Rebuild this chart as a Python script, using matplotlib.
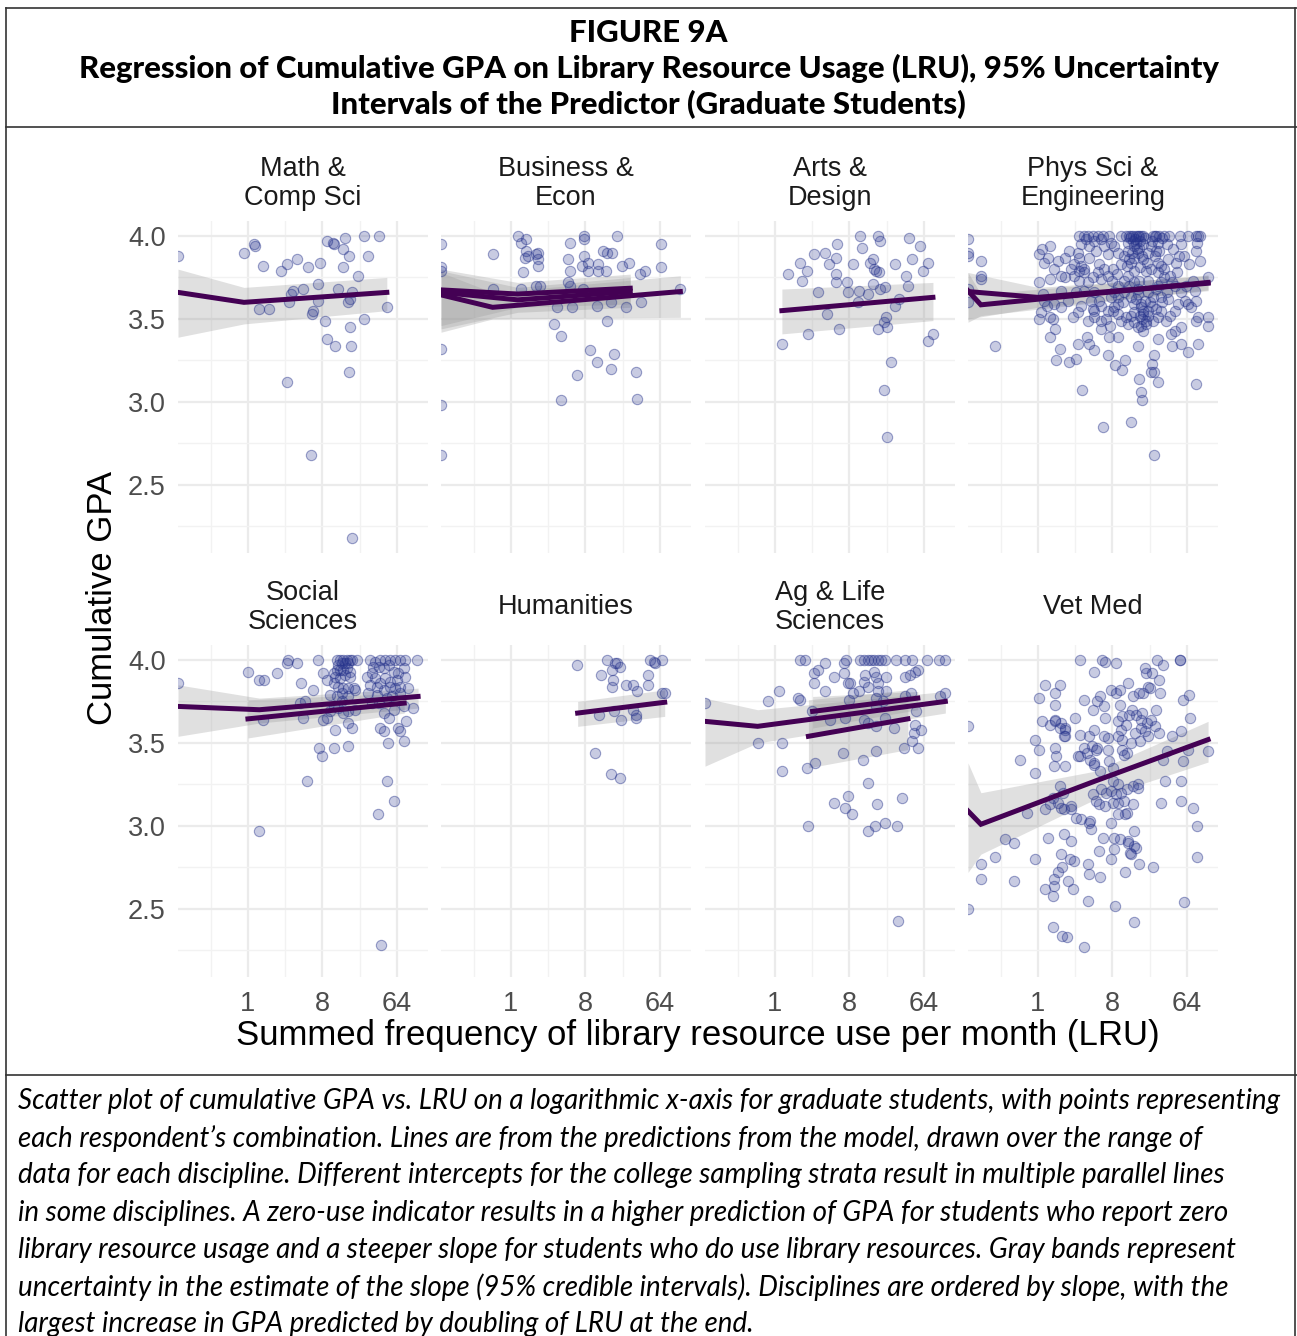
import numpy as np
import matplotlib.pyplot as plt
from matplotlib.lines import Line2D

# ---- data (x = log2 of LRU per month, y = cumulative GPA) ----
disciplines = ["Math &\nComp Sci", "Business &\nEcon", "Arts &\nDesign", "Phys Sci &\nEngineering",
               "Social\nSciences", "Humanities", "Ag & Life\nSciences", "Vet Med"]

math_pts = [(-0.16,3.90),(0.26,3.95),(0.28,3.94),(0.59,3.82),(0.46,3.56),(0.85,3.56),(1.33,3.79),(1.59,3.83),
            (1.99,3.86),(2.44,3.81),(2.91,3.84),(1.72,3.65),(1.83,3.67),(2.21,3.68),(1.67,3.60),(2.81,3.71),
            (2.81,3.61),(2.64,3.55),(2.60,3.53),(3.18,3.97),(3.42,3.96),(3.49,3.95),(3.92,3.99),(3.85,3.92),
            (4.09,3.88),(3.85,3.81),(4.43,3.76),(3.65,3.68),(4.19,3.66),(4.12,3.62),(4.03,3.60),(3.10,3.49),
            (4.12,3.45),(3.18,3.38),(3.52,3.34),(4.15,3.34),(4.66,4.0),(5.28,4.0),(4.84,3.88),(4.66,3.50),
            (5.60,3.57),(4.08,3.18),(1.59,3.12),(2.55,2.68),(4.20,2.18)]
math_zero = [3.88]

bus_pts = [(-0.74,3.89),(-0.74,3.68),(0.27,4.0),(0.40,3.96),(0.59,3.98),(0.59,3.91),(0.57,3.87),(0.67,3.88),
           (1.0,3.89),(1.08,3.90),(1.10,3.86),(1.08,3.82),(0.48,3.78),(0.40,3.68),(1.0,3.70),(1.19,3.70),
           (2.38,3.96),(2.32,3.86),(2.40,3.79),(2.32,3.72),(2.38,3.70),(2.95,4.0),(2.95,3.98),(2.94,3.88),
           (2.86,3.82),(3.12,3.84),(3.10,3.79),(3.53,3.83),(3.50,3.79),(3.82,3.79),(2.92,3.68),(3.73,3.91),
           (3.87,3.90),(4.07,3.90),(4.27,4.0),(4.47,3.82),(4.78,3.84),(5.21,3.77),(5.41,3.79),(6.06,3.95),
           (6.06,3.81),(6.83,3.68),(1.87,3.57),(2.48,3.57),(3.49,3.58),(4.04,3.60),(4.63,3.57),(5.24,3.60),
           (3.87,3.49),(1.72,3.47),(2.01,3.40),(3.19,3.31),(4.16,3.29),(3.46,3.24),(4.04,3.20),(5.04,3.18),
           (2.65,3.16),(2.01,3.01),(5.08,3.02)]
bus_zero = [3.95, 3.81, 3.79, 3.32, 2.98, 2.68]

arts_pts = [(0.28,3.35),(0.51,3.77),(1.01,3.84),(1.09,3.73),(1.29,3.79),(1.56,3.89),(2.02,3.90),(2.51,3.95),
            (2.46,3.87),(2.17,3.83),(2.48,3.77),(2.48,3.72),(1.75,3.66),(2.10,3.53),(1.35,3.41),(2.57,3.44),
            (2.90,3.72),(2.96,3.66),(3.14,3.83),(3.37,3.67),(3.34,3.60),(3.43,4.0),(3.52,3.93),(3.74,3.65),
            (3.85,3.84),(3.95,3.86),(3.99,3.80),(4.08,3.79),(4.19,3.78),(3.95,3.71),(4.15,4.0),(4.24,3.97),
            (4.22,3.68),(4.42,3.69),(4.46,3.51),(4.39,3.48),(4.15,3.44),(4.51,3.45),(4.85,3.83),(4.85,3.58),
            (5.02,3.62),(5.28,3.76),(5.36,3.70),(5.41,3.99),(5.54,3.86),(5.86,3.94),(5.97,3.79),(6.17,3.84),
            (6.37,3.41),(6.17,3.37),(4.67,3.24),(4.38,3.07),(4.50,2.79)]
arts_zero = []

phys_pts = [(-2.30,3.85),(-2.30,3.76),(-2.30,3.74),(-1.72,3.34),
            (0.03,3.89),(0.16,3.92),(0.50,3.94),(0.42,3.87),(0.79,3.85),(0.03,3.72),(0.50,3.74),(0.03,3.50),
            (0.50,3.51),(0.59,3.50),(0.70,3.44),(0.50,3.39),(0.89,3.32),(0.73,3.25),(1.27,3.24),(1.54,3.26),
            (1.76,3.07),(2.61,2.85),(3.76,2.88),(4.67,2.68),(4.20,3.01),(4.16,3.06),(4.09,3.14),(4.86,3.12),
            (6.38,3.11),(4.57,3.18),(4.67,3.18),(4.67,3.28),(4.59,3.23),(3.11,3.22),(3.38,3.19),(3.52,3.25),
            (2.81,3.28),(2.25,3.31),(2.05,3.35),(1.60,3.35),(1.98,3.39),(2.88,3.39),(3.22,3.39),(4.05,3.34),
            (2.55,3.44),(2.92,3.46),(2.25,3.51),(2.25,3.55),(1.40,3.51),(1.09,3.75),(1.27,3.91),(1.10,3.87),
            (1.67,3.87),(1.87,3.80),(1.67,3.73),(2.07,3.87),(2.34,3.91),(2.48,3.83),(2.81,3.89),(2.99,3.73),
            (3.18,3.77),(3.35,3.83),(3.02,3.80),(3.62,3.91),(3.76,3.84),(3.89,3.79),(4.05,3.90),(4.23,3.86),
            (4.36,3.79),(4.70,3.88),(4.84,3.84),(4.90,3.91),(5.24,3.86),(5.44,3.92),(5.58,3.84),(5.78,3.95),
            (5.89,3.88),(6.11,3.83),(6.38,3.91),(6.52,3.85),(6.42,3.96),(6.86,3.75),(6.86,3.51),(6.86,3.46),
            (6.38,3.49),(6.45,3.51),(6.05,3.59),(6.18,3.57),(5.91,3.61),(5.78,3.45),(5.51,3.43),(5.35,3.41),
            (5.40,3.34),(5.75,3.35),(6.05,3.30),(6.45,3.35),(5.24,3.62),(4.97,3.63),(4.84,3.51),(4.63,3.49),
            (4.86,3.38),
            (1.67,4.0),(1.87,4.0),(2.01,4.0),(2.21,4.0),(2.41,4.0),(2.61,4.0),(2.88,4.0),(3.35,4.0),(3.56,4.0),
            (3.69,4.0),(3.83,4.0),(3.96,4.0),(4.09,4.0),(4.23,4.0),(4.63,4.0),(4.77,4.0),(4.90,4.0),(5.10,4.0),
            (5.30,4.0),(5.71,4.0),(6.05,4.0),(6.38,4.0),(6.52,4.0),(3.76,4.0),(4.16,4.0),(4.03,4.0),(4.70,4.0),
            (6.45,4.0),
            (3.22,3.70),(3.49,3.66),(3.76,3.63),(3.89,3.59),(4.16,3.57),(4.23,3.53),(4.36,3.49),(4.16,3.46),
            (4.03,3.45),(4.43,3.55),(4.30,3.61),(4.03,3.65),(3.69,3.70),(3.42,3.60),(3.56,3.51),(3.76,3.52),
            (3.89,3.54),(4.50,3.60),(4.63,3.63),(4.84,3.70),(4.97,3.72),(5.10,3.75),(4.84,3.78),(4.57,3.80),
            (4.43,3.73),(4.09,3.73),(3.89,3.72),(3.62,3.76),(3.49,3.73),(3.22,3.63),(3.08,3.57),(3.22,3.53),
            (3.02,3.55),(3.35,3.49),(3.62,3.47),(3.89,3.48),(4.23,3.43),(4.16,3.59),(4.43,3.66),(4.77,3.56),
            (4.97,3.55),(5.17,3.49),(5.31,3.52),(5.51,3.55),(5.64,3.59),(5.78,3.66),(5.98,3.70),(6.25,3.73),
            (6.32,3.67),(6.38,3.61),(5.51,3.70),(5.31,3.76),(5.10,3.80),(4.97,3.82),(4.77,3.91),(4.57,3.94),
            (4.43,3.90),(4.23,3.95),(3.96,3.96),(3.83,3.97),(3.62,3.96),(3.89,3.94),(4.09,3.93),(3.89,3.87),
            (3.69,3.86),(3.49,3.88),(3.22,3.90),(3.08,3.94),(2.95,3.96),(2.68,3.94),(2.55,3.98),(2.28,3.97),
            (2.07,3.94),(1.94,3.98),(1.74,3.95),(1.60,3.90),(1.47,3.83),(1.74,3.82),(1.87,3.78),(2.01,3.72),
            (2.21,3.75),(2.41,3.78),(2.55,3.74),(2.68,3.80),(2.81,3.76),(2.28,3.66),(2.14,3.61),(2.48,3.61),
            (2.55,3.58),(2.81,3.55),(2.75,3.50),(2.95,3.63),(3.08,3.66),(3.22,3.59),(2.21,3.56),(1.74,3.58),
            (1.60,3.54),(2.01,3.49),(2.55,3.49),(0.93,3.67),(1.20,3.61),(1.54,3.66),(1.87,3.67),(0.93,3.57),
            (0.66,3.59),(0.26,3.61),(0.19,3.65),(0.12,3.54),(0.36,3.58),(0.93,3.76),(1.47,3.76),(1.67,3.79),
            (0.66,3.80),(0.26,3.84),(1.33,3.80),
            (3.70,3.99),(3.90,3.98),(4.10,3.97),(4.30,3.99),(4.00,3.92),(3.80,3.90),(4.20,3.88),(4.40,3.84),
            (3.60,3.82),(4.10,3.81),(4.35,3.47),(4.20,3.50),(4.10,3.52),(4.25,3.55),(4.45,3.52),(4.60,3.58),
            (3.95,3.62),(4.05,3.68),(4.75,3.68),(5.00,3.60),(5.20,3.66),(5.40,3.72),(5.60,3.78),(5.70,3.88),
            (5.20,3.95),(5.00,3.99),(4.85,3.96),(4.60,3.97)]
phys_zero = [3.98, 3.90, 3.88, 3.68, 3.60]

soc_pts = [(0.0,3.93),(0.46,3.88),(0.66,3.88),(0.59,3.64),(0.46,2.97),(1.19,3.92),(1.63,4.0),(1.59,3.98),
           (1.99,3.98),(2.14,3.86),(2.10,3.74),(2.30,3.75),(2.24,3.65),(2.61,3.82),(2.37,3.27),(2.84,4.0),
           (3.04,3.92),(2.87,3.47),(2.98,3.42),(3.04,3.64),(3.18,3.65),(3.52,3.58),(3.49,3.47),(4.05,3.48),
           (4.19,3.59),(4.03,3.62),
           (3.58,4.0),(3.72,4.0),(3.85,4.0),(3.99,4.0),(4.12,4.0),(4.19,4.0),(4.39,4.0),(3.65,3.97),(3.78,3.98),
           (3.92,3.98),(4.05,3.98),(3.58,3.94),(3.72,3.94),(3.85,3.94),(3.99,3.95),(4.12,3.93),(3.52,3.90),
           (3.72,3.89),(3.92,3.91),(4.12,3.90),(3.45,3.86),(3.65,3.84),(3.85,3.83),(4.05,3.83),(4.26,3.83),
           (3.31,3.79),(3.58,3.78),(3.78,3.80),(4.05,3.78),(4.32,3.82),(3.45,3.72),(3.65,3.71),(3.85,3.68),
           (4.05,3.69),(4.32,3.70),(3.78,3.75),(3.31,3.69),(3.18,3.88),(3.45,3.92),
           (4.93,4.0),(5.13,3.99),(5.33,4.0),(5.54,4.0),(5.74,4.0),(5.94,4.0),(6.14,4.0),(6.34,4.0),(6.81,4.0),
           (5.06,3.96),(5.27,3.96),(5.47,3.95),(5.67,3.97),(5.87,3.93),(6.07,3.92),(6.28,3.95),(4.79,3.90),
           (5.00,3.92),(5.13,3.89),(5.33,3.86),(5.54,3.89),(5.74,3.87),(6.01,3.88),(6.34,3.90),(4.93,3.85),
           (5.20,3.84),(5.47,3.82),(5.74,3.84),(5.94,3.83),(6.14,3.84),(6.44,3.83),(4.86,3.80),(5.20,3.79),
           (5.60,3.77),(5.80,3.78),(6.14,3.80),(5.00,3.74),(5.27,3.74),(5.47,3.68),(5.67,3.65),(5.87,3.70),
           (6.28,3.72),(6.64,3.71),(5.33,3.59),(5.47,3.57),(5.63,3.50),(6.07,3.59),(6.14,3.57),(6.28,3.51),
           (6.37,3.63),(5.60,3.27),(5.87,3.15),(5.24,3.07),(5.36,2.28)]
soc_zero = [3.86]

hum_pts = [(2.68,3.97),(3.87,4.0),(4.20,3.98),(4.27,3.98),(4.38,3.96),(4.09,3.94),(3.64,3.91),(4.11,3.88),
           (4.07,3.84),(4.65,3.85),(4.94,3.85),(5.08,3.81),(5.52,3.91),(5.52,3.85),(5.62,4.0),(5.75,3.99),
           (5.82,3.98),(6.09,4.0),(6.09,3.80),(6.22,3.80),(3.56,3.67),(4.16,3.69),(4.44,3.64),(4.92,3.70),
           (5.05,3.67),(5.05,3.65),(3.39,3.44),(4.03,3.31),(4.38,3.29)]
hum_zero = []

ag_pts = [(-0.70,3.50),(-0.30,3.75),(0.15,3.81),(0.28,3.50),(0.28,3.33),(0.94,3.77),(1.01,3.76),(1.0,4.0),
          (1.23,4.0),(1.35,3.0),(1.29,3.35),(1.62,3.38),(1.56,3.86),(1.59,3.92),(1.72,3.94),(2.03,3.98),
          (2.03,3.81),(2.37,3.90),(2.40,3.14),(2.73,3.44),(2.77,3.98),(2.80,3.92),(2.85,4.0),(2.83,3.11),
          (2.94,3.86),(3.03,3.86),(2.94,3.18),(3.11,3.07),(3.14,3.80),(3.0,3.76),(3.38,3.81),(3.43,4.0),
          (3.61,4.0),(3.74,4.0),(3.88,4.0),(4.01,4.0),(4.15,4.0),(4.28,4.0),(4.44,4.0),(3.61,3.87),(3.65,3.91),
          (3.74,3.84),(4.01,3.93),(4.08,3.90),(4.15,3.86),(4.48,3.90),(4.15,3.81),(4.08,3.77),(3.74,3.26),
          (3.54,3.40),(4.08,3.45),(4.12,3.13),(3.77,2.97),(4.04,3.0),(4.44,3.02),(4.93,3.0),(5.13,3.17),
          (4.96,2.43),(4.82,3.59),(4.89,4.0),(5.23,4.0),(5.54,4.0),(6.13,4.0),(6.6,4.0),(6.84,4.0),(5.25,3.90),
          (5.43,3.91),(5.63,3.93),(5.76,3.94),(5.63,3.61),(5.9,3.58),(5.59,3.56),(5.54,3.51),(5.78,3.47),
          (5.2,3.47),(5.67,3.69),(5.23,3.78),(5.49,3.80),(6.64,3.78),(6.87,3.80),(4.48,3.81),(3.61,3.64),
          (3.74,3.62),(4.08,3.60),(4.42,3.65),(4.08,3.72),(4.35,3.75),(2.2,3.64),(2.83,3.65),(1.5,3.69)]
ag_zero = [3.74]

vet_pts = [(-2.30,2.77),(-2.30,2.68),(-1.72,2.81),(-1.32,2.92),(-0.98,2.90),(-0.98,2.67),(-0.71,3.40),
           (-0.46,3.08),(-0.12,2.80),(-0.12,3.32),(-0.12,3.52),(0.03,3.77),(0.03,3.46),(0.16,3.63),(0.30,3.85),
           (0.30,3.10),(0.30,2.62),(0.42,2.93),(0.50,3.61),(0.59,3.17),(0.62,2.58),(0.63,2.64),(0.63,2.68),
           (0.62,2.39),(0.70,3.80),(0.70,3.73),(0.70,3.47),(0.70,3.64),(0.63,3.36),(0.73,3.42),(0.89,3.85),
           (0.89,3.59),(0.93,3.11),(0.93,2.83),(0.96,2.75),(0.96,2.34),(0.90,3.24),(1.04,3.10),(1.10,3.36),
           (1.10,3.54),(1.10,3.59),(1.17,2.33),(1.20,2.67),(1.34,2.91),(1.34,3.10),(1.40,2.62),(1.47,2.79),
           (1.51,3.65),(1.60,3.42),(1.71,4.0),(1.71,3.55),(1.87,3.76),(1.87,3.47),(2.01,2.77),(2.07,2.71),
           (2.03,2.55),(1.85,2.27),(2.07,3.54),(2.10,3.03),(2.17,3.48),(2.21,3.70),(2.25,3.93),(2.28,3.58),
           (2.28,3.38),(2.38,3.75),(2.38,3.47),(2.52,2.69),(2.45,2.85),(2.52,3.33),(2.61,2.93),(2.57,4.0),
           (2.68,3.54),(2.72,3.65),(2.81,3.46),(2.81,3.53),(2.72,3.99),(2.88,3.39),(2.95,2.80),(3.02,3.35),
           (3.08,2.93),(3.08,2.86),(3.12,2.52),(3.15,3.98),(3.15,3.80),(3.22,3.63),(3.22,3.54),(3.22,3.07),
           (3.29,3.82),(3.33,3.58),(3.39,3.52),(3.46,3.43),(3.53,2.72),(3.53,3.07),(3.62,2.91),(3.62,3.86),
           (3.69,3.67),(3.76,2.83),(3.89,2.97),(3.89,2.42),(3.96,2.87),(4.07,2.77),(4.16,3.64),(4.16,3.59),
           (4.12,3.51),(4.03,3.25),(4.36,3.92),(4.43,3.84),(4.43,3.54),(4.09,3.80),(4.23,3.80),(4.50,3.83),
           (4.63,2.75),(4.81,4.0),(5.04,3.97),(4.88,3.88),(4.93,3.80),(5.13,3.27),(4.97,3.14),(5.40,3.54),
           (5.71,4.0),(5.74,4.0),(5.78,3.57),(5.78,3.27),(5.78,3.15),(5.89,2.54),(5.86,3.39),(5.84,3.76),
           (6.11,3.79),(6.15,3.65),(6.07,3.46),(6.25,3.11),(6.41,3.0),(6.41,2.81),(6.86,3.45),
           (2.21,3.19),(2.35,3.15),(2.55,3.22),(2.75,3.20),(2.95,3.21),(3.15,3.19),(3.35,3.20),(3.60,3.22),
           (3.85,3.24),(4.05,3.23),(2.45,3.13),(2.72,3.12),(3.02,3.14),(3.22,3.14),(3.49,3.15),(3.83,3.13),
           (3.02,3.27),(3.22,3.25),(2.05,3.02),(2.14,2.98),(2.95,3.02),(3.58,3.08),(3.29,2.92),(3.62,2.90),
           (3.86,2.88),(3.73,2.84),(1.70,3.42),(1.98,3.44),(2.11,3.40),(2.25,3.37),(2.35,3.46),(0.70,3.63),
           (0.93,3.62),(1.10,3.58),(1.06,3.54),(0.50,3.13),(0.80,3.14),(1.00,3.20),(1.35,3.12),(1.55,3.05),
           (1.75,3.04),(0.80,2.72),(1.05,2.95),(1.30,2.80),(4.30,3.57),(4.40,3.62),(4.20,3.68),(3.90,3.56),
           (3.75,3.50),(3.60,3.44),(3.40,3.46),(3.40,3.66),(3.55,3.61),(3.80,3.70),(3.95,3.67),(3.30,3.73),
           (4.55,3.64),(4.70,3.60),(4.75,3.70),(4.60,3.92),(4.30,3.95),(3.85,3.78),(2.50,3.78),(2.65,3.72),
           (2.95,3.82),(4.90,3.56),(5.05,3.40),(5.20,3.45)]
vet_zero = [3.60, 2.50]

# model predictions: (x, fit, lower, upper); x=None is the zero-use group
math_fit = [([None, -0.16, 5.6], [3.66, 3.60, 3.66], [3.39, 3.47, 3.55], [3.80, 3.69, 3.75])]
bus_fit = [([None, -0.74, 6.83], [3.645, 3.57, 3.665], [3.42, 3.50, 3.51], [3.78, 3.66, 3.76]),
           ([None, 0.27, 4.81], [3.675, 3.65, 3.685], [3.46, 3.57, 3.59], [3.80, 3.72, 3.77]),
           ([None, 0.27, 4.81], [3.66, 3.615, 3.665], [3.44, 3.54, 3.57], [3.79, 3.69, 3.75])]
arts_fit = [([0.28, 6.37], [3.55, 3.63], [3.41, 3.49], [3.68, 3.72])]
phys_fit = [([None, -2.3, 6.86], [3.67, 3.585, 3.72], [3.48, 3.52, 3.675], [3.78, 3.65, 3.765]),
            ([None, 0.0, 6.86], [3.665, 3.63, 3.715], [3.50, 3.57, 3.67], [3.78, 3.69, 3.76])]
soc_fit = [([None, 0.46, 6.86], [3.72, 3.70, 3.78], [3.54, 3.62, 3.71], [3.85, 3.77, 3.83]),
           ([0.0, 6.3], [3.645, 3.74], [3.53, 3.68], [3.76, 3.80])]
hum_fit = [([2.69, 6.2], [3.68, 3.745], [3.60, 3.66], [3.75, 3.82])]
ag_fit = [([None, -0.70, 6.87], [3.63, 3.60, 3.75], [3.36, 3.50, 3.68], [3.77, 3.70, 3.81]),
          ([1.52, 5.76], [3.69, 3.77], [3.59, 3.70], [3.78, 3.81]),
          ([1.35, 5.36], [3.54, 3.645], [3.35, 3.46], [3.76, 3.82])]
vet_fit = [([None, -2.3, 2.3, 6.86], [3.09, 3.01, 3.27, 3.52], [2.72, 2.83, 3.16, 3.385], [3.38, 3.20, 3.33, 3.63])]

all_pts = [math_pts, bus_pts, arts_pts, phys_pts, soc_pts, hum_pts, ag_pts, vet_pts]
all_zero = [math_zero, bus_zero, arts_zero, phys_zero, soc_zero, hum_zero, ag_zero, vet_zero]
all_fit = [math_fit, bus_fit, arts_fit, phys_fit, soc_fit, hum_fit, ag_fit, vet_fit]

x_ticks = [0, 3, 6]
x_tick_labels = ["1", "8", "64"]
y_ticks = [2.5, 3.0, 3.5, 4.0]

title_lines = ["FIGURE 9A",
               "Regression of Cumulative GPA on Library Resource Usage (LRU), 95% Uncertainty",
               "Intervals of the Predictor (Graduate Students)"]
caption_lines = [
    "Scatter plot of cumulative GPA vs. LRU on a logarithmic x-axis for graduate students, with points representing",
    "each respondent\u2019s combination. Lines are from the predictions from the model, drawn over the range of",
    "data for each discipline. Different intercepts for the college sampling strata result in multiple parallel lines",
    "in some disciplines. A zero-use indicator results in a higher prediction of GPA for students who report zero",
    "library resource usage and a steeper slope for students who do use library resources. Gray bands represent",
    "uncertainty in the estimate of the slope (95% credible intervals). Disciplines are ordered by slope, with the",
    "largest increase in GPA predicted by doubling of LRU at the end.",
]

# ---- layout ----
W, H = 1297, 1336
fig = plt.figure(figsize=(W / 100, H / 100), dpi=100)
XLIM = (-2.82, 7.26)
YLIM = (2.09, 4.09)
col_left = [178, 441, 705, 968]
row_top = [221, 645]
pw, ph = 250, 332
LINE_C = "#440154"
PT_FACE = (0.15, 0.2, 0.55, 0.25)
PT_EDGE = (0.15, 0.2, 0.55, 0.45)
SANS = ["Liberation Sans", "DejaVu Sans"]

for i, name in enumerate(disciplines):
    r, c = divmod(i, 4)
    ax = fig.add_axes([col_left[c] / W, 1 - (row_top[r] + ph) / H, pw / W, ph / H])
    ax.set_xlim(XLIM)
    ax.set_ylim(YLIM)
    for s in ax.spines.values():
        s.set_visible(False)
    ax.set_xticks(x_ticks)
    ax.set_xticks([-1.5, 1.5, 4.5], minor=True)
    ax.set_yticks(y_ticks)
    ax.set_yticks([2.25, 2.75, 3.25, 3.75], minor=True)
    ax.grid(which="major", color="#EBEBEB", lw=1.6)
    ax.grid(which="minor", color="#F2F2F2", lw=1.0)
    ax.set_axisbelow(True)
    ax.tick_params(which="both", length=0)
    if r == 1:
        ax.set_xticklabels(x_tick_labels, fontsize=19.5, color="#4D4D4D", family=SANS)
        ax.tick_params(axis="x", pad=10)
    else:
        ax.set_xticklabels([])
    if c == 0:
        ax.set_yticklabels([f"{v:.1f}" for v in y_ticks], fontsize=19.5, color="#4D4D4D", family=SANS)
        ax.tick_params(axis="y", pad=9)
    else:
        ax.set_yticklabels([])

    fits = all_fit[i]
    for fx, fy, lo, hi in fits:
        px = [XLIM[0] if v is None else v for v in fx]
        ax.fill_between(px, lo, hi, color="0.6", alpha=0.3, lw=0, zorder=2)
    xs = [p[0] for p in all_pts[i]]
    ys = [p[1] for p in all_pts[i]]
    ax.scatter(xs, ys, s=55, facecolor=PT_FACE, edgecolor=PT_EDGE, lw=0.8, zorder=3)
    if all_zero[i]:
        ax.scatter([XLIM[0]] * len(all_zero[i]), all_zero[i], s=55, facecolor=PT_FACE,
                   edgecolor=PT_EDGE, lw=0.8, zorder=3)
    for fx, fy, lo, hi in fits:
        px = [XLIM[0] if v is None else v for v in fx]
        ax.plot(px, fy, color=LINE_C, lw=3.6, solid_joinstyle="miter", zorder=4)

    ax.text(0.5, 1.113, name, transform=ax.transAxes, ha="center", va="center",
            fontsize=19.5, color="#1A1A1A", family=SANS, linespacing=1.12)

fig.text(103 / W, 1 - 598 / H, "Cumulative GPA", rotation=90, ha="center", va="center",
         fontsize=25, family=SANS)
fig.text(698 / W, 1 - 1036 / H, "Summed frequency of library resource use per month (LRU)",
         ha="center", va="center", fontsize=25, family=SANS)

# title block
title_y = [33, 68, 105]
for t, yy in zip(title_lines, title_y):
    fig.text(0.5, 1 - yy / H, t, ha="center", va="center", fontsize=22.4, weight="black",
             family=["Lato", "DejaVu Sans"])

# caption
for k, t in enumerate(caption_lines):
    fig.text(18 / W, 1 - (1101 + 37.2 * k) / H, t, ha="left", va="center", fontsize=20.0,
             style="italic", family=["Lato", "DejaVu Sans"])

# frame
fc = "#333333"
for (x0, y0, x1, y1) in [(6, 8, 1297, 8), (6, 8, 6, 1336), (6, 127, 1297, 127),
                         (6, 1075, 1297, 1075), (1295, 8, 1295, 1336)]:
    fig.add_artist(Line2D([x0 / W, x1 / W], [1 - y0 / H, 1 - y1 / H], color=fc, lw=1.2))

fig.savefig("out.png", dpi=100)
